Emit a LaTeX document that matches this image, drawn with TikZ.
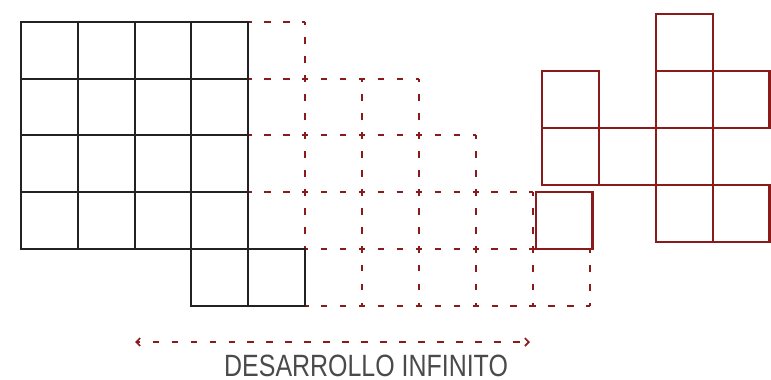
\documentclass[tikz,border=0pt]{standalone}
\usepackage{fontspec}
\setmainfont{Liberation Sans}
\newfontfamily\narrowfont[FakeStretch=0.81]{Liberation Sans}
\usepackage{xcolor}
\usetikzlibrary{arrows.meta}
\definecolor{brick}{HTML}{8B1A1A}
\definecolor{ink}{HTML}{222222}
\definecolor{caption}{HTML}{4A4A4A}

\begin{document}
\begin{tikzpicture}[x=28.45pt, y=-28.45pt,
  cell/.style={draw=ink, line width=1pt},
  redcell/.style={draw=brick, line width=1.1pt},
  ext/.style={draw=brick, line width=1pt, dash pattern=on 3.3pt off 6.18pt, dash phase=1.65pt},
  arr/.style={{Straight Barb[length=2pt, width=4pt]}-{Straight Barb[length=2pt, width=4pt]}, draw=brick, line width=0.8pt, dash pattern=on 3.3pt off 6.18pt, dash phase=1.65pt},
  lbl/.style={font=\narrowfont\fontsize{15.4}{18}\selectfont, text=caption, inner sep=0pt}]
\useasboundingbox (-0.364,-0.381) rectangle (13.186,6.297);
% dashed extension of the grid
\foreach \r/\a/\b in {0/4/5, 1/4/7, 2/4/8, 3/4/9, 4/4/10, 5/5/10}
  \draw[ext] (\a,\r) -- (\b,\r);
\foreach \c/\a/\b in {5/0/5, 6/1/5, 7/1/5, 8/2/5, 9/3/5, 10/4/5}
  \draw[ext] (\c,\a) -- (\c,\b);
% solid black grid
\foreach \c in {0,...,3}
  \foreach \r in {0,...,3}
    \draw[cell] (\c,\r) rectangle ++(1,1);
\draw[cell] (3,4) rectangle (4,5);
\draw[cell] (4,4) rectangle (5,5);
% red cells
\draw[redcell] (9.05,3) rectangle (10.05,4);
\begin{scope}[shift={(9.16,-0.135)}]
  \foreach \c/\r in {0/1, 0/2, 1/2, 2/0, 2/1, 3/1, 2/2, 2/3, 3/3}
    \draw[redcell] (\c,\r) rectangle ++(1,1);
\end{scope}
% caption
\coordinate (arrL) at (2.01,5.63);
\coordinate (arrR) at (8.95,5.63);
\draw[arr] (arrL) -- (arrR);
\node[lbl, anchor=base] (cap) at (6.07,6.23) {DESARROLLO INFINITO};
\end{tikzpicture}
\end{document}
